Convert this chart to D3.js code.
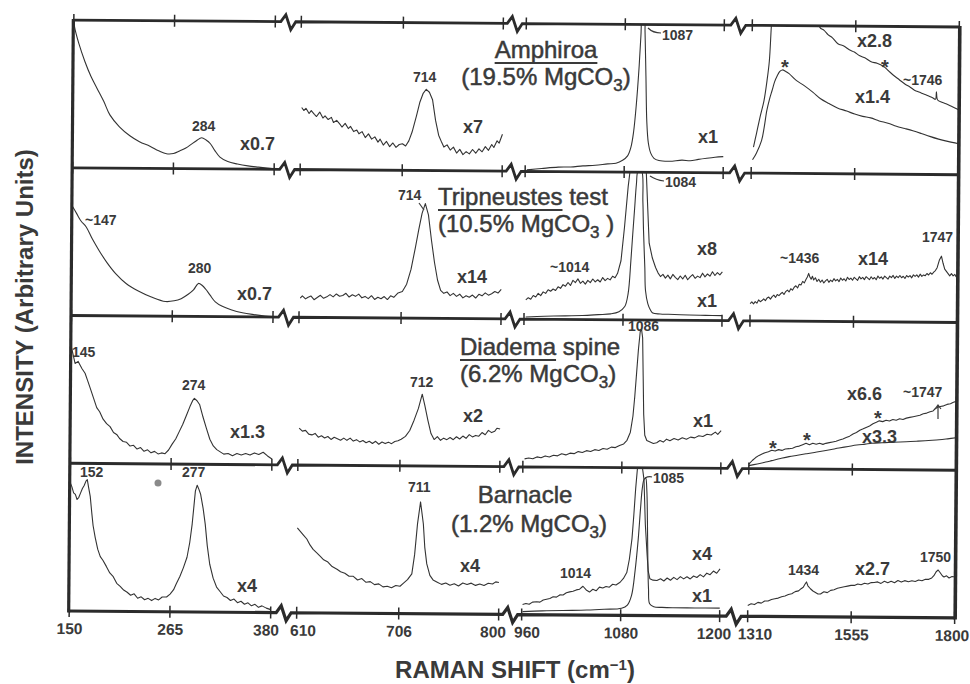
<!DOCTYPE html>
<html>
<head>
<meta charset="utf-8">
<script src="https://cdn.jsdelivr.net/npm/d3@7"></script>
<style>
  body { margin: 0; background: #fff; }
  svg text { font-family: "Liberation Sans", Arial, Helvetica, sans-serif; fill: #3a3a3a; }
  .frame { stroke: #2b2b2b; fill: none; }
  .tick-mark { stroke: #2b2b2b; stroke-width: 1.5; }
  .spec { fill: none; stroke: #333; stroke-width: 1.1; stroke-linejoin: round; }
  .num { font-size: 14px; font-weight: bold; }
  .mult { font-size: 18px; font-weight: bold; }
  .star { font-size: 20px; font-weight: bold; }
  .ptitle { font-size: 24px; stroke: #3a3a3a; stroke-width: 0.5; }
  .axtitle { font-size: 24px; font-weight: bold; }
  .xlab { font-size: 15.5px; font-weight: bold; }
</style>
</head>
<body>
<svg id="chart" width="970" height="684"></svg>
<script>
// broken x axis: four wavenumber windows
const segments = [[150, 380], [610, 800], [960, 1200], [1310, 1800]];
const segTicks = [[150, 265, 380], [610, 706, 800], [960, 1080, 1200], [1310, 1555, 1800]];

// intensities in % of panel height, [wavenumber, intensity]
// Amphiroa (19.5% MgCO3)
const amph_low = [[150,100],[151,95],[156,84],[163,72],[170,62],[177,54],[185,45],[192,36],[203,28],[215,22],[226,18],[238,15],[248,12],[257,10],[265,10.2],[272,12],[279,14],[285,16.5],[291,19],[297,21],[302,19.5],[307,17],[312,12.5],[318,8],[327,5],[338,3.4],[350,2.2],[362,1.4],[372,0.8],[380,0.4]];
const amph_mid = [[611,42],[613,40],[615,41.5],[618,38],[620,40],[623,37.5],[625,36],[628,39],[631,35],[633,36.5],[636,34],[639,35.5],[641,32],[644,33.5],[647,31],[649,29],[652,31.5],[655,28],[657,29.5],[660,26],[663,27],[665,24.5],[668,26],[671,22],[674,24.5],[677,21],[680,22.5],[683,19],[685,21],[688,17],[691,19.5],[694,16],[697,18.5],[700,15.5],[703,17.5],[706,18],[709,16.5],[712,20],[715,26],[719,37],[722,46],[725,52],[728,55],[731,53],[734,48],[737,34],[740,24],[743,19],[745,16],[748,17.5],[751,14],[754,16],[757,12],[760,14.5],[763,11],[766,13],[769,11.5],[772,14.5],[775,12],[778,15],[781,13],[784,16.5],[787,14],[790,18],[792,16],[795,20.5],[797,19],[800,25]];
const amph_x1 = [[962,1],[980,2],[1000,3],[1015,3.2],[1030,4],[1045,4.5],[1060,5.5],[1070,6],[1078,8],[1084,11],[1088,17],[1091,27],[1094,45],[1097,70],[1099,92],[1101,108],[1103,108],[1104,95],[1105.5,65],[1107,34],[1109,20],[1112,13],[1116,9.5],[1122,8],[1135,7.6],[1150,8.4],[1160,8],[1170,9],[1180,9.8],[1190,10.5],[1200,11]];
const amph_x28 = [[1315,17.6],[1322,27],[1330,38],[1339,49],[1346,63],[1351,76],[1355,99],[1360,125],[1400,160],[1440,140],[1465,110],[1470,99],[1480,97],[1490,94],[1500,92],[1513,88],[1527,86.5],[1540,84],[1552,82.5],[1565,80],[1578,78.5],[1592,76],[1606,75],[1621,73],[1633,70],[1645,67],[1659,64],[1673,61],[1685,59],[1695,57],[1704,56],[1712,55],[1722,54],[1730,53],[1738,52],[1745,51],[1747,56],[1750,50.5],[1760,49],[1770,48],[1785,46],[1800,44]];
const amph_x14 = [[1313,9],[1322,13.5],[1334,22],[1340,31],[1346,42.5],[1352,50],[1358,56],[1364,62],[1370,66],[1376,69],[1382,70],[1390,69],[1398,67.5],[1415,63],[1434,59.5],[1455,55],[1473,50.7],[1493,47.5],[1513,44.6],[1535,42.5],[1554,40.5],[1573,39],[1592,38],[1612,36],[1633,34.5],[1653,32.5],[1673,31],[1692,29.5],[1712,27.7],[1732,25.8],[1753,24],[1775,22.5],[1800,21]];

// Tripneustes test (10.5% MgCO3)
const trip_low = [[150,74],[155,69],[160,64],[166,60],[173,52],[181,44],[190,36],[200,28.6],[212,22],[226,17],[241,13],[257,10],[267,10.5],[275,12],[283,15],[289,18],[294.6,22.4],[299,21],[303,18.5],[308,14.5],[314,10],[322,7],[332,4.8],[345,2.8],[358,1.6],[371,0.7],[380,0.3]];
const trip_mid = [[611,13],[613,14.5],[616,12.5],[618,13.5],[621,14.5],[624,12],[627,13.5],[630,15],[633,13],[636,14],[639,15.5],[642,14],[645,16],[648,14.5],[651,15],[654,16.5],[657,14],[660,15.5],[663,14.5],[666,16],[669,13.5],[672,14.5],[675,13],[678,15],[681,12.5],[684,14],[687,13],[690,14.5],[693,12.5],[696,15],[699,14],[703,17],[707,18],[711,23],[715,33],[719,48],[722,60],[725,71],[728,77.6],[731,70],[734,53],[737,38],[740,26],[743,19],[746,17],[749,18],[752,15.5],[755,17],[758,15],[761,16.5],[764,14],[767,15.5],[770,14.5],[773,16],[776,14],[779,16.5],[782,15.5],[785,17.5],[788,16],[791,17],[794,18.5],[797,17.5],[800,20]];
const trip_x8 = [[962,13],[965,14.5],[968,13.5],[971,16],[974,15],[977,17.5],[980,16],[983,18.5],[986,17.5],[989,20],[992,19],[995,20.5],[998,19.5],[1001,22],[1004,21],[1007,23.5],[1010,22.5],[1013,25],[1016,23],[1019,26.5],[1022,25],[1025,27.5],[1028,24.5],[1031,26],[1034,24],[1037,26.5],[1040,25],[1043,27.5],[1046,25.5],[1049,27],[1052,25.5],[1055,28.5],[1058,26.5],[1061,28],[1064,27],[1067,29.5],[1070,28.5],[1073,31.5],[1077,40],[1081,63],[1085,90],[1089,110],[1100,150],[1106,110],[1109,75],[1111,52],[1115,42],[1119,35.6],[1122,32],[1125,29.5],[1128,31],[1131,28.5],[1134,30.5],[1137,28],[1140,31],[1143,29],[1146,27.5],[1149,30],[1152,28],[1155,30.5],[1158,27.5],[1161,29.5],[1164,31],[1167,28.5],[1170,30],[1173,29],[1176,32],[1179,29.5],[1182,31.5],[1185,30],[1188,33],[1191,30.5],[1194,32.5],[1197,31],[1200,33]];
const trip_x1 = [[962,1.4],[985,2],[1010,2.4],[1031,2.7],[1050,3.4],[1065,4],[1075,5.5],[1082,9],[1086,18],[1089,40],[1091,58],[1093,75],[1095,92],[1097,101],[1101,101],[1103,80],[1104,61],[1106,35],[1107,20],[1110,11],[1113,7],[1116,4.8],[1125,4.2],[1135,4],[1160,3.6],[1180,3.5],[1200,3.4]];
const trip_high = [[1310,11.7],[1314,12.8],[1318,11.5],[1322,13],[1326,12],[1330,14.2],[1334,13],[1338,13.8],[1342,15],[1346,13.8],[1350,15.5],[1354,16.2],[1358,14.8],[1362,16.5],[1366,17.5],[1370,16],[1374,18],[1378,17.2],[1382,18.5],[1386,19.5],[1390,18],[1394,20],[1398,21],[1402,19.8],[1406,22],[1410,21],[1414,23],[1418,24],[1422,22.5],[1426,25],[1430,24.5],[1434,27],[1438,26],[1442,28.5],[1445,30],[1448,32.4],[1451,30],[1454,28.5],[1457,30.5],[1460,28],[1464,29.5],[1468,27],[1472,28.5],[1476,26.5],[1480,28],[1484,26],[1488,27.5],[1492,28.5],[1496,26.5],[1500,28],[1504,27],[1508,29],[1512,27.5],[1516,28.5],[1520,27],[1524,29.5],[1528,28],[1532,29],[1536,27.5],[1540,30],[1544,28.5],[1548,29.5],[1552,28],[1556,30],[1560,29],[1564,28],[1568,30.5],[1572,29],[1576,30],[1580,28.5],[1584,30.5],[1588,29.5],[1592,28.5],[1596,30.5],[1600,29],[1604,30],[1608,28.5],[1612,31],[1616,29.5],[1620,30.5],[1624,29],[1628,31],[1632,30],[1636,29],[1640,31],[1644,30],[1648,31.5],[1652,29.5],[1656,31],[1660,30],[1664,31.5],[1668,30],[1672,31],[1676,29.5],[1680,31.5],[1684,30.5],[1688,31.5],[1692,30],[1696,32],[1700,31],[1704,32],[1708,30.5],[1712,32.5],[1716,31],[1720,32],[1724,31.5],[1728,33],[1732,32],[1736,33.5],[1740,32.5],[1744,34],[1748,35],[1752,37],[1757,42],[1762,44.8],[1766,40],[1770,36],[1774,34.5],[1778,33],[1782,31.5],[1786,33],[1790,31.5],[1794,32.5],[1797,31],[1800,32.4]];

// Diadema spine (6.2% MgCO3)
const dia_low = [[150,79],[152,74],[154.5,67.6],[158,69],[162.5,64],[166,61],[169,56],[172,51],[176,44],[179.6,37.8],[183,35],[187,30],[191,27],[195,25],[199,21],[203,19.5],[206,17],[210,15],[214,14.5],[218,12],[222,12.5],[226,10],[230,11],[234,8.5],[238,9.5],[242,7.5],[246,8.5],[250,6.8],[254,7.5],[258,7],[262,9.5],[266,13.5],[270,17],[274,22],[278,27],[282,33],[286,39],[289,43],[291,44.6],[294,43],[297,40.5],[301,32],[305,24.3],[309,17],[313,12.5],[317,10],[321,8.5],[325,7],[330,7.5],[335,6],[340,7.5],[345,6.5],[350,7.5],[355,6.5],[360,8],[365,7],[370,8.5],[375,6],[380,4]];
const dia_mid = [[611,25],[614,23],[617,23.5],[620,21],[623,20.5],[626,21.5],[629,19],[632,20],[635,18.5],[638,19.5],[641,17.5],[644,19],[647,18],[650,17],[653,18.5],[656,17],[659,18.5],[662,16.5],[665,17.5],[668,16],[671,17],[674,15.5],[677,16.5],[680,15],[683,16.5],[686,14.5],[689,16],[692,15],[695,16],[698,15],[701,16.5],[704,17],[707,18],[711,20],[715,24],[719,31],[723,39],[726.5,48.6],[729,41],[732,31],[735,22],[738,18],[741,20],[744,17.5],[747,19],[750,18],[753,19.5],[756,18],[759,20],[762,18.5],[765,20.5],[768,19],[771,21.5],[774,20],[777,21],[780,20.5],[783,23],[786,21.5],[789,24.5],[792,23],[795,24],[797,26],[800,25.5]];
const dia_x1 = [[962,5.4],[967,6],[972,5.5],[977,6.8],[982,6.2],[987,7.5],[992,6.8],[997,8],[1002,7.6],[1007,9],[1012,8.3],[1017,9.5],[1022,9.2],[1027,10.6],[1032,10],[1037,11.3],[1042,10.7],[1047,12],[1052,11.5],[1057,12.8],[1062,12.3],[1067,13.8],[1072,13.5],[1077,15],[1082,16],[1086,18.5],[1090,24],[1093,35],[1095,48],[1097,64],[1099,80],[1101,92],[1102.5,94],[1104,88],[1105,62],[1106,36],[1107.5,22],[1110,18.5],[1114,17.5],[1118,16.5],[1122,17],[1126,18.5],[1130,17.5],[1134,19.5],[1138,18.5],[1143,20],[1148,19],[1153,20.5],[1158,19.5],[1163,21],[1168,20.5],[1173,22],[1178,21.5],[1183,23],[1188,22.5],[1193,24.5],[1196,23],[1200,25.5]];
const dia_x66 = [[1310,3],[1318,5.5],[1326,7.5],[1334,9],[1341,10],[1348,10.8],[1356,11.5],[1364,12.5],[1372,12],[1380,13],[1388,12.5],[1396,13.5],[1405,13.7],[1413,14],[1421,15],[1429,15.5],[1437,16.5],[1445,17.5],[1453,16.5],[1461,17.5],[1469,16.8],[1477,17.5],[1485,16.8],[1492,17.5],[1500,18],[1508,18.5],[1516,19],[1524,19.8],[1532,20.5],[1540,21.5],[1548,22.5],[1556,24],[1564,25],[1572,26.5],[1580,27.5],[1587,28.5],[1595,29.5],[1603,31],[1611,32],[1618,33],[1626,32.5],[1634,33.5],[1642,33],[1650,34],[1658,33.5],[1666,34.5],[1674,34],[1682,35],[1690,35.5],[1698,36],[1706,36.5],[1714,37],[1722,38],[1730,38.5],[1738,39.5],[1745,40],[1750,41.5],[1756,42.5],[1762,43],[1770,43.5],[1778,44.5],[1786,45],[1793,46],[1800,46.6]];
const dia_x33 = [[1310,2],[1330,3.2],[1350,4.5],[1364,5.5],[1385,7],[1405,8.3],[1425,9.3],[1445,10.3],[1465,11.3],[1485,12.3],[1505,13.4],[1523,14.4],[1545,15.5],[1565,16.5],[1585,17.2],[1601,17.8],[1625,18.2],[1650,18.6],[1682,19],[1710,19.5],[1735,20],[1760,20.5],[1780,21.2],[1800,22]];

// Barnacle (1.2% MgCO3)
const barn_low = [[150,87],[152,84],[154,80],[156,79],[158,75.5],[160,77],[162,80],[164,83],[166,85],[168,88],[169.5,89],[171,84],[173,77.7],[175,66],[176.5,58],[179,50],[182,42],[185,37],[188,34.5],[192,30.4],[196,26],[200,23.5],[204,19],[208,17],[212,14.5],[216,13],[220,11],[224,12],[228,9],[232,10],[236,8],[240,9],[244,7.5],[248,9],[252,8],[256,10],[261,10],[265,12],[269,15],[272,19],[276,24],[280,30],[284,37],[287,47],[289.6,59.5],[291.5,72],[293,82],[295,85.8],[297,83],[299,79.7],[302,70],[304.5,59.5],[307,45],[310,32.4],[314,23],[318,17],[322,14],[326,11],[330,10],[334,8],[338,9],[342,6.5],[346,7.5],[350,5.5],[354,6.5],[358,4.5],[362,5.5],[366,3.5],[370,4.5],[375,3],[380,2]];
const barn_mid = [[610,57.5],[613,55],[616,52.5],[619,50],[622,46],[625,43],[628,41],[631.6,38.5],[635,36],[639,34.5],[643,31.5],[647.6,29.7],[651,28],[655,27],[659,25],[663,25],[667,22.5],[671,23.5],[675,21],[679,21.5],[683,19.5],[687,20],[691,18],[695,18.5],[699,17.5],[703,19],[707,18.5],[710,20.5],[714,23],[718,27],[720.5,40],[723,60.8],[725.7,75.7],[728.5,60.8],[730,45],[732,33.8],[735,26],[738,23],[742,21.5],[746,20],[750,21],[754,19.5],[758,20.5],[762,19],[766,21],[770,20],[774,21],[778,19.5],[782,20.5],[786,19.5],[790,21],[794,20.5],[797,22],[800,21.6]];
const barn_x4 = [[961,6.8],[965,7.5],[969,7],[973,8.5],[978,8.8],[982,8.5],[986,10],[990,10.5],[994,11],[998,12.2],[1002,12],[1006,13.5],[1010,13.5],[1014,15],[1018,15.6],[1022,16],[1026,17],[1030,17.5],[1034,19.5],[1038,17],[1042,15.6],[1046,17.5],[1050,16.5],[1054,19],[1058,18.4],[1062,19.5],[1066,19],[1070,21],[1074,20.5],[1079,22.4],[1083,25],[1087,29],[1090,38],[1093,52],[1095,68],[1097,86],[1099,100],[1102,115],[1105,100],[1107,92],[1109,62],[1111.5,40.8],[1113,30],[1115,25],[1119,24],[1123.6,23.8],[1128,25],[1132,23.5],[1136,25.5],[1140,24],[1144,26],[1148,24.5],[1152,26.5],[1156,25],[1160,26.5],[1164,25],[1168,27],[1172,26],[1176,28],[1180,26.5],[1184,29],[1188,28],[1192,30.5],[1196,29],[1200,32]];
const barn_x1 = [[961,2],[985,2.6],[1010,3],[1039,3.4],[1060,4],[1081,4.8],[1088,7],[1093,13.6],[1097,30],[1100.6,52],[1103,72],[1105,86],[1107,92],[1109,93],[1110.5,85],[1111.5,65],[1112.5,35],[1113.5,18],[1115,8],[1120,6],[1130,5.6],[1143,5.4],[1170,5.4],[1200,5.4]];
const barn_high = [[1310,7.4],[1318,8.5],[1326,8],[1334,9.5],[1342,9],[1350,10.5],[1358,10.5],[1366,11.5],[1374,12],[1382,12.5],[1390,13.5],[1398,14],[1406,15],[1414,15.5],[1422,17],[1430,17.5],[1436,19],[1441,20],[1445,22],[1448.6,23.6],[1452,21],[1458,19],[1464,17.5],[1470,16.5],[1476,15.5],[1482,15.5],[1490,17],[1498,16.5],[1506,18],[1514,18.5],[1522,19.5],[1530,20],[1538,20.5],[1546,21],[1554,21.5],[1562,21.5],[1570,22.5],[1578,22],[1586,23],[1594,22.5],[1602,23.5],[1609,23.6],[1617,24],[1625,23],[1633,24.5],[1641,23.5],[1649,24.5],[1657,23.5],[1665,25],[1673,24],[1681,25],[1690,24.3],[1698,25],[1706,24.5],[1714,25.5],[1722,25],[1730,26],[1738,26],[1745,27],[1750,28.5],[1755,31],[1760,32.4],[1765,30.5],[1770,28.5],[1774,27.7],[1780,28.5],[1786,27],[1793,28],[1800,27.7]];

// [panel, segment, data, smooth trace?]
const spectra = [
  [0, 0, amph_low, true], [0, 1, amph_mid, false], [0, 2, amph_x1, true], [0, 3, amph_x28, true], [0, 3, amph_x14, true],
  [1, 0, trip_low, true], [1, 1, trip_mid, false], [1, 2, trip_x8, false], [1, 2, trip_x1, true], [1, 3, trip_high, false],
  [2, 0, dia_low, false], [2, 1, dia_mid, false], [2, 2, dia_x1, false], [2, 3, dia_x66, false], [2, 3, dia_x33, true],
  [3, 0, barn_low, false], [3, 1, barn_mid, false], [3, 2, barn_x4, false], [3, 2, barn_x1, true], [3, 3, barn_high, false]
];

// layout
const L = 71, R = 957.5, T = 23.5, B = 614.5;
const panelH = (B - T) / 4;
const segPx = [[71.5, 273], [299, 501], [524, 722], [750, 957]];

const svg = d3.select("#chart");
const defs = svg.append("defs");

// the scanned original sits slightly rotated
const g = svg.append("g").attr("transform", "rotate(0.45,514,318)");

const xs = segments.map((d, i) => d3.scaleLinear().domain(d).range(segPx[i]));
const ys = d3.range(4).map(i => d3.scaleLinear().domain([0, 100]).range([T + (i + 1) * panelH, T + i * panelH]));

ys.forEach((y, i) => {
  defs.append("clipPath").attr("id", "clip" + i)
    .append("rect").attr("x", L).attr("y", T + i * panelH).attr("width", R - L).attr("height", panelH);
});

// spectra
spectra.forEach(([p, s, data, smooth]) => {
  const line = d3.line()
    .x(d => xs[s](d[0]))
    .y(d => ys[p](d[1]))
    .curve(smooth ? d3.curveCatmullRom.alpha(0.5) : d3.curveLinear);
  g.append("path").attr("class", "spec").attr("clip-path", "url(#clip" + p + ")").attr("d", line(data));
});

// horizontal frame lines with break marks
function hPath(y) {
  const path = d3.path();
  path.moveTo(L, y);
  for (let i = 0; i < 3; i++) {
    const m = (segPx[i][1] + segPx[i + 1][0]) / 2;
    path.lineTo(m - 7.5, y);
    path.lineTo(m - 2.5, y - 7);
    path.lineTo(m + 2.5, y + 8);
    path.lineTo(m + 7.5, y);
  }
  path.lineTo(R, y);
  return path.toString();
}
const hLines = d3.range(5).map(i => T + i * panelH);
hLines.forEach((y, i) => {
  g.append("path").attr("class", "frame").attr("d", hPath(y))
    .attr("stroke-width", i === 4 ? 3.2 : 2.8);
  segTicks.forEach((ticks, s) => ticks.forEach(t => {
    g.append("line").attr("class", "tick-mark")
      .attr("x1", xs[s](t)).attr("x2", xs[s](t)).attr("y1", y - 6).attr("y2", y + 6);
  }));
});
g.append("line").attr("class", "frame").attr("x1", L).attr("x2", L).attr("y1", T - 1).attr("y2", B + 1.5).attr("stroke-width", 3.2);
g.append("line").attr("class", "frame").attr("x1", R).attr("x2", R).attr("y1", T - 1).attr("y2", B + 1.5).attr("stroke-width", 3.6);

// bottom tick labels
const labelShift = {380: -5, 800: -6, 1200: -6, 610: 6, 960: 5, 1310: 7, 1800: -3};
segments.forEach((d, s) => {
  const ax = g.append("g").attr("transform", `translate(0,${B})`)
    .call(d3.axisBottom(xs[s]).tickValues(segTicks[s]).tickSize(0).tickPadding(12).tickFormat(d3.format("d")));
  ax.select(".domain").remove();
  ax.selectAll("text").attr("class", "xlab").attr("font-family", null).attr("font-size", null)
    .attr("dx", v => labelShift[v] || 0);
});

// panel titles
function title(text, x, y0, anchor, underlineWord) {
  const t1 = svg.append("text").attr("class", "ptitle").attr("x", x).attr("y", y0).attr("text-anchor", anchor);
  const w = t1.append("tspan").text(underlineWord);
  if (text.length > underlineWord.length) t1.append("tspan").text(text.slice(underlineWord.length));
  const start = w.node().getStartPositionOfChar(0).x;
  const len = w.node().getComputedTextLength();
  svg.append("line").attr("x1", start).attr("x2", start + len).attr("y1", y0 + 5).attr("y2", y0 + 5)
    .attr("stroke", "#3a3a3a").attr("stroke-width", 2);
}
function mgLine(pct, x, y0, anchor, gap) {
  const t = svg.append("text").attr("class", "ptitle").attr("x", x).attr("y", y0).attr("text-anchor", anchor);
  t.append("tspan").text("(" + pct + "% MgCO");
  t.append("tspan").attr("dy", 6).attr("font-size", 17).text("3");
  t.append("tspan").attr("dy", -6).text((gap ? " " : "") + ")");
}
title("Amphiroa", 546, 58, "middle", "Amphiroa");
mgLine("19.5", 546, 85, "middle", false);
title("Tripneustes test", 438, 205, "start", "Tripneustes");
mgLine("10.5", 438, 232, "start", true);
title("Diadema spine", 460, 355, "start", "Diadema");
mgLine("6.2", 460, 382, "start", false);
svg.append("text").attr("class", "ptitle").attr("x", 525).attr("y", 503).attr("text-anchor", "middle").text("Barnacle");
mgLine("1.2", 529, 532, "middle", false);

// peak labels, scale factors and markers
const peakLabels = [
  ["284", 192, 131], ["714", 413, 82], ["1087", 662, 40], ["~1746", 903, 85],
  ["~147", 85, 225], ["280", 188, 273], ["714", 398, 200], ["~1014", 550, 272], ["1084", 665, 187], ["~1436", 780, 263], ["1747", 922, 242],
  ["145", 72, 357], ["274", 182, 390], ["712", 410, 387], ["1086", 628, 331], ["~1747", 903, 397],
  ["152", 80, 477], ["277", 182, 477], ["711", 408, 492], ["1014", 560, 578], ["1085", 653, 483], ["1434", 788, 575], ["1750", 920, 562]
];
const scaleLabels = [
  ["x0.7", 240, 150], ["x7", 463, 133], ["x1", 698, 143], ["x2.8", 857, 47], ["x1.4", 855, 103],
  ["x0.7", 237, 300], ["x14", 457, 283], ["x8", 697, 255], ["x1", 697, 307], ["x14", 858, 265],
  ["x1.3", 230, 438], ["x2", 463, 422], ["x1", 693, 427], ["x6.6", 847, 400], ["x3.3", 862, 443],
  ["x4", 237, 592], ["x4", 460, 572], ["x4", 692, 560], ["x1", 692, 602], ["x2.7", 855, 575]
];
const stars = [[785, 62], [885, 62], [773, 443], [807, 435], [878, 413]];

svg.selectAll(".peak").data(peakLabels).enter().append("text").attr("class", "num")
  .attr("x", d => d[1]).attr("y", d => d[2]).text(d => d[0]);
svg.selectAll(".scale").data(scaleLabels).enter().append("text").attr("class", "mult")
  .attr("x", d => d[1]).attr("y", d => d[2]).text(d => d[0]);
svg.selectAll(".star").data(stars).enter().append("text").attr("class", "star").attr("text-anchor", "middle")
  .attr("x", d => d[0]).attr("y", d => d[1] + 12).text("*");

// leader lines to labels
const leaders = [
  "M648,28 Q653,33 661,33", "M419,203 L424,210", "M650,176 Q656,180 664,181",
  "M645,478 Q649,476 652,477", "M938,419 L938,405 M935,409 L938,405 L941,409"
];
leaders.forEach(d => svg.append("path").attr("d", d).attr("fill", "none").attr("stroke", "#3a3a3a").attr("stroke-width", 1.2));
svg.append("circle").attr("cx", 158).attr("cy", 483).attr("r", 3.5).attr("fill", "#8a8a8a");

// axis titles
const xt = svg.append("text").attr("class", "axtitle").attr("x", 515).attr("y", 678).attr("text-anchor", "middle");
xt.append("tspan").text("RAMAN SHIFT (cm");
xt.append("tspan").attr("dy", -8).attr("font-size", 15).text("−1");
xt.append("tspan").attr("dy", 8).text(")");
svg.append("text").attr("class", "axtitle").attr("transform", "translate(33,307) rotate(-90)")
  .attr("text-anchor", "middle").text("INTENSITY (Arbitrary Units)");
</script>
</body>
</html>
